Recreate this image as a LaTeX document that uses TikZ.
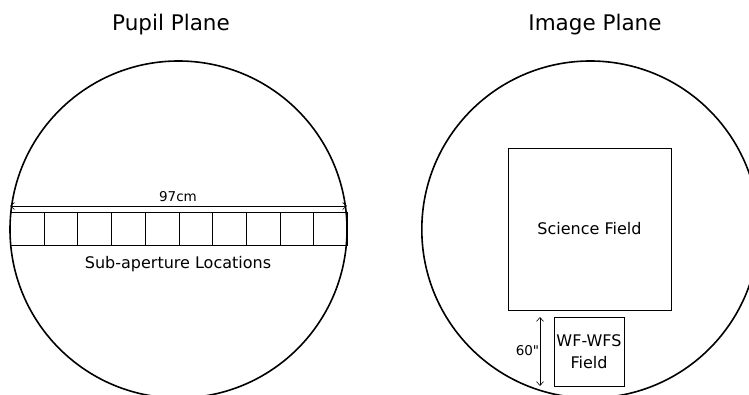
\documentclass[tikz,border=0pt]{standalone}
\usepackage{fontspec}
\setmainfont{DejaVu Sans}
\newfontfamily\rawfont{DejaVu Sans}[Ligatures=TeXOff]
\usetikzlibrary{arrows.meta}
\begin{document}
\begin{tikzpicture}[x=1pt,y=-1pt,
  ring/.style={draw, circle, line width=1.6pt, minimum size=337pt, inner sep=0pt},
  cell/.style={draw, line width=1pt, minimum width=33.7pt, minimum height=33pt, inner sep=0pt, anchor=north west},
  field/.style={draw, line width=0.9pt, inner sep=0pt, align=center, font=\fontsize{16}{22}\selectfont},
  title/.style={font=\fontsize{21.5}{26}\selectfont, anchor=base},
  lbl/.style={font=\fontsize{16}{20}\selectfont, anchor=base},
  small/.style={font=\fontsize{13.5}{16}\selectfont, anchor=base},
  dim/.style={<->, >={Straight Barb[length=4pt,width=7pt]}, line width=0.6pt}]
\useasboundingbox (0,0) rectangle (749,395);
\clip (0,0) rectangle (749,395);
% titles
\node[title] (tpupil) at (171,31) {Pupil Plane};
\node[title] (timage) at (595,31) {Image Plane};
% circles
\node[ring] (pupil) at (178.5,229.5) {};
\node[ring] (image) at (590.3,229.5) {};
% sub-aperture cells
\foreach \i in {0,...,9} \node[cell] (c\i) at ({10+33.7*\i},212) {};
\coordinate (aL) at (10,206);
\coordinate (aR) at (347,206);
\draw[dim] (aL) -- (aR);
\node[small] (d97) at (178,201.5) {97cm};
\node[lbl] (sub) at (178,269) {Sub-aperture Locations};
% image plane fields
\node[field, minimum width=163pt, minimum height=162pt] (sci) at (589.5,229) {Science Field};
\node[field, minimum width=70pt, minimum height=69pt] (wfs) at (589,351.5) {WF-WFS\\Field};
\coordinate (bT) at (540,317);
\coordinate (bB) at (540,386);
\draw[dim] (bT) -- (bB);
\node[small] (d60) at (527.5,355) {\rawfont 60"};
\end{tikzpicture}
\end{document}
